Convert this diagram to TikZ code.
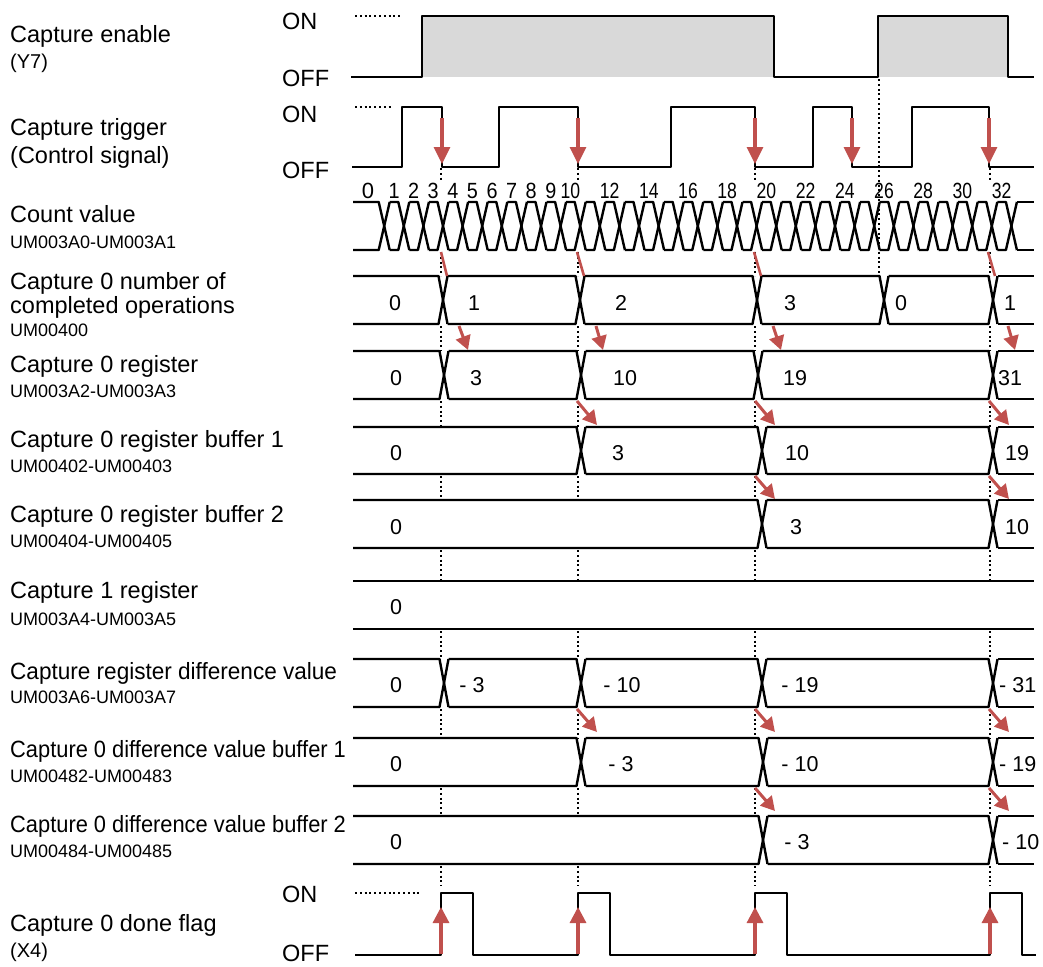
\documentclass[tikz,border=0pt]{standalone}
\usepackage{fontspec}
\setmainfont{Liberation Sans}
\usetikzlibrary{arrows.meta}
\definecolor{arr}{RGB}{192,80,77}
\definecolor{enfill}{RGB}{217,217,217}
\newcommand\bigf{\fontsize{23.5}{28}\selectfont}
\newcommand\smallf{\fontsize{18}{21}\selectfont}
\newcommand\parf{\fontsize{20}{24}\selectfont}
\newcommand\valf{\fontsize{21.5}{25}\selectfont}
\newcommand\cntf{\fontsize{22}{24}\selectfont}
\newcommand\busrow[4]{%
  \foreach \c [remember=\c as \p (initially 348.5)] in {#3}{%
    \draw[wave] (\p+4.5,#1) -- (\c-4.5,#1) -- (\c+4.5,#2);
    \draw[wave] (\p+4.5,#2) -- (\c-4.5,#2) -- (\c+4.5,#1);
  }%
  \draw[wave] (#4+4.5,#1) -- (1034,#1);
  \draw[wave] (#4+4.5,#2) -- (1034,#2);
}
\begin{document}
\begin{tikzpicture}[x=1pt,y=-1pt,
  wave/.style={line width=2.4pt, line join=round},
  dots/.style={line width=2pt, dash pattern=on 2pt off 2.8pt},
  redarrow/.style={arr, line width=3pt, -{Triangle[width=15pt,length=14pt]}},
  redline/.style={arr, line width=2.6pt},
  lab/.style={anchor=base west, inner sep=0pt, font=\bigf},
  sub/.style={anchor=base west, inner sep=0pt, font=\smallf},
  par/.style={anchor=base west, inner sep=0pt, font=\parf},
  val/.style={anchor=base, inner sep=0pt, font=\valf},
  vall/.style={anchor=base west, inner sep=0pt, font=\valf},
  cnt/.style={anchor=base, inner sep=0pt, font=\cntf},
]
\useasboundingbox (0,0) rectangle (1043,966);

% ---- gray enable fills
\fill[enfill] (422,16) rectangle (774,77);
\fill[enfill] (878,16) rectangle (1008,77);

% ---- dotted guide lines
\draw[dots] (355,16) -- (400,16);
\draw[dots] (355,107) -- (393,107);
\draw[dots] (355,893) -- (421,893);
\draw[dots] (879,79) -- (879,276);
\foreach \xx in {441,578,755,990}{
  \foreach \ya/\yb in {168/182, 252/276, 326/351, 401/427, 476/500, 550/581, 631/659, 709/738, 788/816, 866/886}{
    \draw[dots] (\xx,\ya) -- (\xx,\yb);
  }
}

% ---- capture enable
\draw[wave] (351,77) -- (422,77) -- (422,16) -- (774,16) -- (774,77) -- (878,77)
  -- (878,16) -- (1008,16) -- (1008,77) -- (1034,77);

% ---- capture trigger
\draw[wave] (352,167) -- (402,167) -- (402,107) -- (442,107) -- (442,167)
  -- (499,167) -- (499,107) -- (578,107) -- (578,167)
  -- (671,167) -- (671,107) -- (755,107) -- (755,167)
  -- (813,167) -- (813,107) -- (852,107) -- (852,167)
  -- (912,167) -- (912,107) -- (989,107) -- (989,167) -- (1034,167);

% ---- count value
\foreach \n in {0,...,32}{
  \pgfmathsetmacro\c{384.2+19.6*\n}
  \pgfmathsetmacro\pe{ifthenelse(\n==0,353,\c-19.6+5.5)}
  \draw[wave] (\pe,202) -- (\c-5.5,202) -- (\c+5.5,250);
  \draw[wave] (\pe,250) -- (\c-5.5,250) -- (\c+5.5,202);
}
\draw[wave] (1011.4+5.5,202) -- (1034,202);
\draw[wave] (1011.4+5.5,250) -- (1034,250);
\node[cnt] (cnt0) at (368,198) {0};
\foreach \k in {1,...,9}{
  \node[cnt] (cnt\k) at (374.4+19.6*\k,198) {\scalebox{0.9}[1]{\k}};
}
\foreach \k in {10,12,...,32}{
  \node[cnt] (cnt\k) at (374.4+19.6*\k,198) {\scalebox{0.8}[1]{\k}};
}

% ---- buses
\busrow{276}{324}{443,580,757,884,993}{993}
\busrow{351}{399}{444,581,758,993}{993}
\busrow{427}{474}{581,762,993}{993}
\busrow{500}{548}{762,993}{993}
\draw[wave] (353,581) -- (1034,581);
\draw[wave] (353,629) -- (1034,629);
\busrow{659}{707}{444,581,762,993}{993}
\busrow{738}{786}{581,763,993}{993}
\busrow{816}{864}{763,993}{993}

% ---- done flag
\draw[wave] (355,955) -- (441,955) -- (441,893) -- (473,893) -- (473,955)
  -- (578,955) -- (578,893) -- (610,893) -- (610,955)
  -- (755,955) -- (755,893) -- (787,893) -- (787,955)
  -- (990,955) -- (990,893) -- (1022,893) -- (1022,955) -- (1036,955);

% ---- red arrows
\foreach \xx in {442,578,755,852,989}{
  \draw[arr, line width=3.2pt, -{Triangle[width=16pt,length=17pt]}] (\xx,118) -- (\xx,164);
}
\foreach \xx in {441,578,755,990}{
  \draw[arr, line width=3.2pt, -{Triangle[width=16pt,length=16pt]}] (\xx,954) -- (\xx,907);
}
\draw[redline] (441,252) -- (447,276);
\draw[redline] (577,252) -- (584,276);
\draw[redline] (754,252) -- (761,276);
\draw[redline] (988,252) -- (995,276);
\draw[redarrow] (459,326) -- (468,350);
\draw[redarrow] (596,326) -- (603,350);
\draw[redarrow] (773,326) -- (781,350);
\draw[redarrow] (1008,326) -- (1015,350);
\foreach \xx in {577,755,989}{
  \draw[redarrow] (\xx,401) -- (\xx+20,425);
  \draw[redarrow] (\xx,709) -- (\xx+20,732);
}
\foreach \xx in {755,989}{
  \draw[redarrow] (\xx,476) -- (\xx+20,499);
  \draw[redarrow] (\xx,788) -- (\xx+20,811);
}

% ---- bus values
\node[val] (c0a) at (395,310) {0};
\node[val] (c0b) at (474,310) {1};
\node[val] (c0c) at (621,310) {2};
\node[val] (c0d) at (790,310) {3};
\node[val] (c0e) at (901,310) {0};
\node[val] (c0f) at (1010,310) {1};

\node[val] (r0a) at (396,385) {0};
\node[val] (r0b) at (476,385) {3};
\node[val] (r0c) at (625,385) {10};
\node[val] (r0d) at (795,385) {19};
\node[val] (r0e) at (1010,385) {31};

\node[val] (b1a) at (396,460) {0};
\node[val] (b1b) at (618,460) {3};
\node[val] (b1c) at (797,460) {10};
\node[val] (b1d) at (1017,460) {19};

\node[val] (b2a) at (396,534) {0};
\node[val] (b2b) at (796,534) {3};
\node[val] (b2c) at (1017,534) {10};

\node[val] (r1a) at (396,614) {0};

\node[val] (dfa) at (396,692) {0};
\node[val] (dfb) at (472,692) {- 3};
\node[val] (dfc) at (622,692) {- 10};
\node[val] (dfd) at (800,692) {- 19};
\node[vall] (dfe) at (999,692) {- 31};

\node[val] (d1a) at (396,771) {0};
\node[val] (d1b) at (621,771) {- 3};
\node[val] (d1c) at (800,771) {- 10};
\node[vall] (d1d) at (999,771) {- 19};

\node[val] (d2a) at (396,849) {0};
\node[val] (d2b) at (797,849) {- 3};
\node[vall] (d2c) at (1002,849) {- 10};

% ---- ON / OFF
\node[lab] (en-on) at (282,30) {ON};
\node[lab] (en-off) at (282,86) {OFF};
\node[lab] (tr-on) at (282,122) {ON};
\node[lab] (tr-off) at (282,178) {OFF};
\node[lab] (df-on) at (282,902) {ON};
\node[lab] (df-off) at (282,961) {OFF};

% ---- left labels
\node[lab] (l1) at (10,42) {Capture enable};
\node[par] (l1s) at (10,68) {(Y7)};
\node[lab] (l2) at (10,135) {Capture trigger};
\node[lab] (l2b) at (10,163) {(Control signal)};
\node[lab] (l3) at (10,222) {Count value};
\node[sub] (l3s) at (10,248) {UM003A0-UM003A1};
\node[lab] (l4) at (10,289) {Capture 0 number of};
\node[lab] (l4b) at (10,313) {completed operations};
\node[sub] (l4s) at (10,336) {UM00400};
\node[lab] (l5) at (10,372) {Capture 0 register};
\node[sub] (l5s) at (10,397) {UM003A2-UM003A3};
\node[lab] (l6) at (10,447) {Capture 0 register buffer 1};
\node[sub] (l6s) at (10,472) {UM00402-UM00403};
\node[lab] (l7) at (10,522) {Capture 0 register buffer 2};
\node[sub] (l7s) at (10,547) {UM00404-UM00405};
\node[lab] (l8) at (10,598) {Capture 1 register};
\node[sub] (l8s) at (10,625) {UM003A4-UM003A5};
\node[lab] (l9) at (10,679) {\scalebox{0.96}[1]{Capture register difference value}};
\node[sub] (l9s) at (10,703) {UM003A6-UM003A7};
\node[lab] (l10) at (10,757) {\scalebox{0.93}[1]{Capture 0 difference value buffer 1}};
\node[sub] (l10s) at (10,782) {UM00482-UM00483};
\node[lab] (l11) at (10,832) {\scalebox{0.93}[1]{Capture 0 difference value buffer 2}};
\node[sub] (l11s) at (10,857) {UM00484-UM00485};
\node[lab] (l12) at (10,931) {Capture 0 done flag};
\node[par] (l12s) at (10,957) {(X4)};
\end{tikzpicture}
\end{document}
